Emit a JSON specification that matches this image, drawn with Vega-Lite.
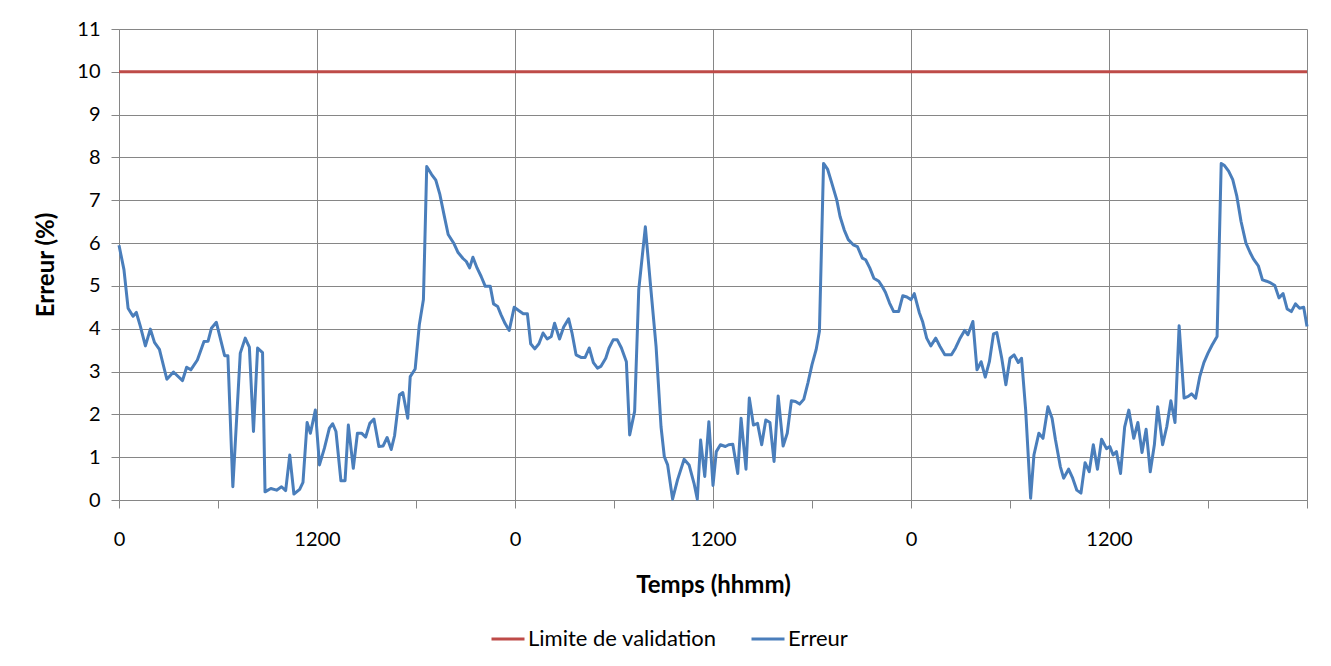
{
  "$schema": "https://vega.github.io/schema/vega-lite/v6.json",
  "width": 1188,
  "height": 471,
  "autosize": {"type": "none"},
  "padding": {"left": 119, "top": 29, "right": 24, "bottom": 166},
  "background": "white",
  "config": {
    "view": {"stroke": null},
    "font": "Lato",
    "axis": {"labelFont": "Lato", "titleFont": "Lato", "labelColor": "#000000", "titleColor": "#000000"}
  },
  "data": {"values": [
    {"h":0,"v":10,"s":"Limite de validation"},{"h":72,"v":10,"s":"Limite de validation"},
    {"h":0,"v":5.95,"s":"Erreur"},{"h":0.3,"v":5.38,"s":"Erreur"},{"h":0.55,"v":4.48,"s":"Erreur"},{"h":0.85,"v":4.29,"s":"Erreur"},{"h":1.05,"v":4.38,"s":"Erreur"},{"h":1.3,"v":4.05,"s":"Erreur"},{"h":1.6,"v":3.6,"s":"Erreur"},{"h":1.9,"v":3.99,"s":"Erreur"},{"h":2.15,"v":3.68,"s":"Erreur"},{"h":2.45,"v":3.52,"s":"Erreur"},{"h":2.9,"v":2.82,"s":"Erreur"},{"h":3.3,"v":2.99,"s":"Erreur"},{"h":3.85,"v":2.79,"s":"Erreur"},{"h":4.1,"v":3.1,"s":"Erreur"},{"h":4.35,"v":3.04,"s":"Erreur"},{"h":4.75,"v":3.27,"s":"Erreur"},{"h":5.15,"v":3.7,"s":"Erreur"},{"h":5.4,"v":3.71,"s":"Erreur"},{"h":5.6,"v":4.01,"s":"Erreur"},{"h":5.9,"v":4.15,"s":"Erreur"},{"h":6.4,"v":3.37,"s":"Erreur"},{"h":6.6,"v":3.37,"s":"Erreur"},{"h":6.9,"v":0.31,"s":"Erreur"},{"h":7.35,"v":3.43,"s":"Erreur"},{"h":7.65,"v":3.78,"s":"Erreur"},{"h":7.9,"v":3.57,"s":"Erreur"},{"h":8.15,"v":1.6,"s":"Erreur"},{"h":8.4,"v":3.55,"s":"Erreur"},{"h":8.7,"v":3.44,"s":"Erreur"},{"h":8.85,"v":0.19,"s":"Erreur"},{"h":9.2,"v":0.27,"s":"Erreur"},{"h":9.55,"v":0.23,"s":"Erreur"},{"h":9.85,"v":0.31,"s":"Erreur"},{"h":10.1,"v":0.22,"s":"Erreur"},{"h":10.35,"v":1.05,"s":"Erreur"},{"h":10.6,"v":0.14,"s":"Erreur"},{"h":10.95,"v":0.25,"s":"Erreur"},{"h":11.15,"v":0.41,"s":"Erreur"},{"h":11.4,"v":1.81,"s":"Erreur"},{"h":11.6,"v":1.56,"s":"Erreur"},{"h":11.9,"v":2.1,"s":"Erreur"},{"h":12.15,"v":0.82,"s":"Erreur"},{"h":12.45,"v":1.21,"s":"Erreur"},{"h":12.75,"v":1.68,"s":"Erreur"},{"h":12.95,"v":1.78,"s":"Erreur"},{"h":13.15,"v":1.6,"s":"Erreur"},{"h":13.45,"v":0.45,"s":"Erreur"},{"h":13.7,"v":0.45,"s":"Erreur"},{"h":13.9,"v":1.75,"s":"Erreur"},{"h":14.2,"v":0.74,"s":"Erreur"},{"h":14.45,"v":1.56,"s":"Erreur"},{"h":14.7,"v":1.56,"s":"Erreur"},{"h":14.95,"v":1.47,"s":"Erreur"},{"h":15.2,"v":1.79,"s":"Erreur"},{"h":15.45,"v":1.89,"s":"Erreur"},{"h":15.75,"v":1.25,"s":"Erreur"},{"h":16,"v":1.26,"s":"Erreur"},{"h":16.25,"v":1.46,"s":"Erreur"},{"h":16.5,"v":1.18,"s":"Erreur"},{"h":16.7,"v":1.5,"s":"Erreur"},{"h":17,"v":2.46,"s":"Erreur"},{"h":17.2,"v":2.51,"s":"Erreur"},{"h":17.5,"v":1.91,"s":"Erreur"},{"h":17.65,"v":2.88,"s":"Erreur"},{"h":17.95,"v":3.06,"s":"Erreur"},{"h":18.2,"v":4.09,"s":"Erreur"},{"h":18.45,"v":4.68,"s":"Erreur"},{"h":18.65,"v":7.79,"s":"Erreur"},{"h":18.95,"v":7.6,"s":"Erreur"},{"h":19.2,"v":7.47,"s":"Erreur"},{"h":19.45,"v":7.13,"s":"Erreur"},{"h":19.7,"v":6.66,"s":"Erreur"},{"h":19.95,"v":6.2,"s":"Erreur"},{"h":20.3,"v":5.99,"s":"Erreur"},{"h":20.55,"v":5.78,"s":"Erreur"},{"h":20.85,"v":5.64,"s":"Erreur"},{"h":21.05,"v":5.57,"s":"Erreur"},{"h":21.25,"v":5.42,"s":"Erreur"},{"h":21.45,"v":5.67,"s":"Erreur"},{"h":21.7,"v":5.42,"s":"Erreur"},{"h":21.95,"v":5.22,"s":"Erreur"},{"h":22.2,"v":4.99,"s":"Erreur"},{"h":22.5,"v":4.99,"s":"Erreur"},{"h":22.7,"v":4.58,"s":"Erreur"},{"h":22.95,"v":4.52,"s":"Erreur"},{"h":23.15,"v":4.33,"s":"Erreur"},{"h":23.4,"v":4.12,"s":"Erreur"},{"h":23.65,"v":3.96,"s":"Erreur"},{"h":23.95,"v":4.5,"s":"Erreur"},{"h":24.2,"v":4.43,"s":"Erreur"},{"h":24.5,"v":4.35,"s":"Erreur"},{"h":24.75,"v":4.35,"s":"Erreur"},{"h":24.95,"v":3.65,"s":"Erreur"},{"h":25.2,"v":3.53,"s":"Erreur"},{"h":25.45,"v":3.65,"s":"Erreur"},{"h":25.7,"v":3.9,"s":"Erreur"},{"h":25.95,"v":3.76,"s":"Erreur"},{"h":26.2,"v":3.82,"s":"Erreur"},{"h":26.4,"v":4.13,"s":"Erreur"},{"h":26.7,"v":3.76,"s":"Erreur"},{"h":26.95,"v":4.04,"s":"Erreur"},{"h":27.25,"v":4.23,"s":"Erreur"},{"h":27.45,"v":3.91,"s":"Erreur"},{"h":27.7,"v":3.39,"s":"Erreur"},{"h":28,"v":3.33,"s":"Erreur"},{"h":28.25,"v":3.33,"s":"Erreur"},{"h":28.5,"v":3.55,"s":"Erreur"},{"h":28.75,"v":3.21,"s":"Erreur"},{"h":29,"v":3.08,"s":"Erreur"},{"h":29.2,"v":3.12,"s":"Erreur"},{"h":29.5,"v":3.31,"s":"Erreur"},{"h":29.7,"v":3.55,"s":"Erreur"},{"h":29.95,"v":3.74,"s":"Erreur"},{"h":30.2,"v":3.74,"s":"Erreur"},{"h":30.45,"v":3.55,"s":"Erreur"},{"h":30.75,"v":3.23,"s":"Erreur"},{"h":30.95,"v":1.52,"s":"Erreur"},{"h":31.25,"v":2.07,"s":"Erreur"},{"h":31.5,"v":4.91,"s":"Erreur"},{"h":31.9,"v":6.38,"s":"Erreur"},{"h":32.2,"v":5.07,"s":"Erreur"},{"h":32.55,"v":3.59,"s":"Erreur"},{"h":32.85,"v":1.71,"s":"Erreur"},{"h":33.05,"v":1.01,"s":"Erreur"},{"h":33.25,"v":0.82,"s":"Erreur"},{"h":33.55,"v":0.02,"s":"Erreur"},{"h":33.85,"v":0.47,"s":"Erreur"},{"h":34.25,"v":0.95,"s":"Erreur"},{"h":34.55,"v":0.82,"s":"Erreur"},{"h":34.85,"v":0.39,"s":"Erreur"},{"h":35.05,"v":0.02,"s":"Erreur"},{"h":35.25,"v":1.4,"s":"Erreur"},{"h":35.5,"v":0.55,"s":"Erreur"},{"h":35.75,"v":1.83,"s":"Erreur"},{"h":36,"v":0.34,"s":"Erreur"},{"h":36.2,"v":1.13,"s":"Erreur"},{"h":36.45,"v":1.29,"s":"Erreur"},{"h":36.75,"v":1.25,"s":"Erreur"},{"h":36.95,"v":1.29,"s":"Erreur"},{"h":37.2,"v":1.3,"s":"Erreur"},{"h":37.5,"v":0.62,"s":"Erreur"},{"h":37.7,"v":1.91,"s":"Erreur"},{"h":38,"v":0.72,"s":"Erreur"},{"h":38.2,"v":2.38,"s":"Erreur"},{"h":38.45,"v":1.75,"s":"Erreur"},{"h":38.7,"v":1.79,"s":"Erreur"},{"h":38.95,"v":1.29,"s":"Erreur"},{"h":39.2,"v":1.87,"s":"Erreur"},{"h":39.45,"v":1.81,"s":"Erreur"},{"h":39.7,"v":0.9,"s":"Erreur"},{"h":39.95,"v":2.43,"s":"Erreur"},{"h":40.25,"v":1.26,"s":"Erreur"},{"h":40.5,"v":1.56,"s":"Erreur"},{"h":40.75,"v":2.32,"s":"Erreur"},{"h":41,"v":2.3,"s":"Erreur"},{"h":41.25,"v":2.24,"s":"Erreur"},{"h":41.5,"v":2.35,"s":"Erreur"},{"h":41.75,"v":2.73,"s":"Erreur"},{"h":42,"v":3.16,"s":"Erreur"},{"h":42.25,"v":3.51,"s":"Erreur"},{"h":42.45,"v":3.94,"s":"Erreur"},{"h":42.7,"v":7.86,"s":"Erreur"},{"h":42.95,"v":7.72,"s":"Erreur"},{"h":43.2,"v":7.4,"s":"Erreur"},{"h":43.5,"v":7.01,"s":"Erreur"},{"h":43.7,"v":6.62,"s":"Erreur"},{"h":43.95,"v":6.31,"s":"Erreur"},{"h":44.2,"v":6.08,"s":"Erreur"},{"h":44.5,"v":5.96,"s":"Erreur"},{"h":44.75,"v":5.92,"s":"Erreur"},{"h":45.05,"v":5.65,"s":"Erreur"},{"h":45.25,"v":5.61,"s":"Erreur"},{"h":45.5,"v":5.42,"s":"Erreur"},{"h":45.75,"v":5.18,"s":"Erreur"},{"h":46.05,"v":5.11,"s":"Erreur"},{"h":46.25,"v":4.99,"s":"Erreur"},{"h":46.45,"v":4.85,"s":"Erreur"},{"h":46.7,"v":4.6,"s":"Erreur"},{"h":46.95,"v":4.4,"s":"Erreur"},{"h":47.25,"v":4.4,"s":"Erreur"},{"h":47.5,"v":4.77,"s":"Erreur"},{"h":47.75,"v":4.74,"s":"Erreur"},{"h":48,"v":4.68,"s":"Erreur"},{"h":48.2,"v":4.82,"s":"Erreur"},{"h":48.5,"v":4.38,"s":"Erreur"},{"h":48.7,"v":4.17,"s":"Erreur"},{"h":48.95,"v":3.78,"s":"Erreur"},{"h":49.2,"v":3.6,"s":"Erreur"},{"h":49.5,"v":3.78,"s":"Erreur"},{"h":49.75,"v":3.59,"s":"Erreur"},{"h":50.05,"v":3.39,"s":"Erreur"},{"h":50.45,"v":3.39,"s":"Erreur"},{"h":50.7,"v":3.55,"s":"Erreur"},{"h":50.95,"v":3.76,"s":"Erreur"},{"h":51.25,"v":3.96,"s":"Erreur"},{"h":51.45,"v":3.86,"s":"Erreur"},{"h":51.75,"v":4.17,"s":"Erreur"},{"h":52,"v":3.04,"s":"Erreur"},{"h":52.25,"v":3.23,"s":"Erreur"},{"h":52.5,"v":2.87,"s":"Erreur"},{"h":52.75,"v":3.23,"s":"Erreur"},{"h":53,"v":3.88,"s":"Erreur"},{"h":53.2,"v":3.91,"s":"Erreur"},{"h":53.5,"v":3.31,"s":"Erreur"},{"h":53.75,"v":2.69,"s":"Erreur"},{"h":54,"v":3.31,"s":"Erreur"},{"h":54.25,"v":3.39,"s":"Erreur"},{"h":54.5,"v":3.21,"s":"Erreur"},{"h":54.7,"v":3.31,"s":"Erreur"},{"h":54.95,"v":2.1,"s":"Erreur"},{"h":55.25,"v":0.04,"s":"Erreur"},{"h":55.45,"v":1.05,"s":"Erreur"},{"h":55.75,"v":1.56,"s":"Erreur"},{"h":56,"v":1.44,"s":"Erreur"},{"h":56.3,"v":2.18,"s":"Erreur"},{"h":56.55,"v":1.91,"s":"Erreur"},{"h":56.75,"v":1.42,"s":"Erreur"},{"h":57.05,"v":0.78,"s":"Erreur"},{"h":57.25,"v":0.51,"s":"Erreur"},{"h":57.55,"v":0.72,"s":"Erreur"},{"h":57.8,"v":0.51,"s":"Erreur"},{"h":58.05,"v":0.23,"s":"Erreur"},{"h":58.3,"v":0.16,"s":"Erreur"},{"h":58.55,"v":0.87,"s":"Erreur"},{"h":58.8,"v":0.66,"s":"Erreur"},{"h":59.05,"v":1.29,"s":"Erreur"},{"h":59.3,"v":0.72,"s":"Erreur"},{"h":59.55,"v":1.42,"s":"Erreur"},{"h":59.85,"v":1.2,"s":"Erreur"},{"h":60.05,"v":1.25,"s":"Erreur"},{"h":60.25,"v":1.05,"s":"Erreur"},{"h":60.45,"v":1.13,"s":"Erreur"},{"h":60.7,"v":0.62,"s":"Erreur"},{"h":60.95,"v":1.71,"s":"Erreur"},{"h":61.2,"v":2.1,"s":"Erreur"},{"h":61.5,"v":1.44,"s":"Erreur"},{"h":61.75,"v":1.81,"s":"Erreur"},{"h":62,"v":1.11,"s":"Erreur"},{"h":62.25,"v":1.65,"s":"Erreur"},{"h":62.5,"v":0.66,"s":"Erreur"},{"h":62.75,"v":1.29,"s":"Erreur"},{"h":62.95,"v":2.18,"s":"Erreur"},{"h":63.25,"v":1.29,"s":"Erreur"},{"h":63.5,"v":1.71,"s":"Erreur"},{"h":63.75,"v":2.32,"s":"Erreur"},{"h":64,"v":1.81,"s":"Erreur"},{"h":64.25,"v":4.07,"s":"Erreur"},{"h":64.55,"v":2.38,"s":"Erreur"},{"h":64.8,"v":2.42,"s":"Erreur"},{"h":65,"v":2.48,"s":"Erreur"},{"h":65.25,"v":2.38,"s":"Erreur"},{"h":65.5,"v":2.88,"s":"Erreur"},{"h":65.75,"v":3.21,"s":"Erreur"},{"h":66,"v":3.43,"s":"Erreur"},{"h":66.25,"v":3.62,"s":"Erreur"},{"h":66.55,"v":3.82,"s":"Erreur"},{"h":66.8,"v":7.86,"s":"Erreur"},{"h":67,"v":7.81,"s":"Erreur"},{"h":67.25,"v":7.68,"s":"Erreur"},{"h":67.5,"v":7.48,"s":"Erreur"},{"h":67.75,"v":7.09,"s":"Erreur"},{"h":68,"v":6.51,"s":"Erreur"},{"h":68.3,"v":6,"s":"Erreur"},{"h":68.55,"v":5.78,"s":"Erreur"},{"h":68.75,"v":5.63,"s":"Erreur"},{"h":69.05,"v":5.47,"s":"Erreur"},{"h":69.3,"v":5.14,"s":"Erreur"},{"h":69.55,"v":5.11,"s":"Erreur"},{"h":69.8,"v":5.07,"s":"Erreur"},{"h":70.05,"v":5.01,"s":"Erreur"},{"h":70.3,"v":4.72,"s":"Erreur"},{"h":70.55,"v":4.82,"s":"Erreur"},{"h":70.8,"v":4.46,"s":"Erreur"},{"h":71.05,"v":4.4,"s":"Erreur"},{"h":71.3,"v":4.58,"s":"Erreur"},{"h":71.55,"v":4.48,"s":"Erreur"},{"h":71.8,"v":4.5,"s":"Erreur"},{"h":72,"v":4.05,"s":"Erreur"}
  ]},
  "mark": {"type": "line", "strokeWidth": 3, "interpolate": "linear", "strokeJoin": "round"},
  "encoding": {
    "x": {
      "field": "h", "type": "quantitative",
      "scale": {"domain": [0, 72], "nice": false, "zero": false},
      "axis": {
        "title": "Temps (hhmm)",
        "titleFontSize": 24, "titleFontWeight": "bold", "titlePadding": 24,
        "values": [0, 6, 12, 18, 24, 30, 36, 42, 48, 54, 60, 66, 72],
        "labelExpr": "datum.value % 24 == 0 && datum.value < 72 ? '0' : (datum.value % 24 == 12 ? '1200' : '')",
        "labelFontSize": 20, "labelPadding": 21, "labelOverlap": false, "labelFlush": false,
        "tickSize": 8, "tickColor": "#868686", "domainColor": "#868686",
        "grid": true, "gridColor": "#868686", "gridWidth": 1,
        "gridOpacity": {"condition": {"test": "datum.value % 12 == 0", "value": 1}, "value": 0}
      }
    },
    "y": {
      "field": "v", "type": "quantitative",
      "scale": {"domain": [0, 11], "nice": false},
      "axis": {
        "title": "Erreur (%)",
        "titleFontSize": 24, "titleFontWeight": "bold", "titlePadding": 18,
        "values": [0, 1, 2, 3, 4, 5, 6, 7, 8, 9, 10, 11],
        "labelFontSize": 20, "labelPadding": 11,
        "tickSize": 8, "tickColor": "#868686", "domainColor": "#868686",
        "grid": true, "gridColor": "#868686", "gridWidth": 1
      }
    },
    "color": {
      "field": "s", "type": "nominal",
      "scale": {"domain": ["Limite de validation", "Erreur"], "range": ["#BE4B48", "#4A7EBB"]},
      "legend": {
        "title": null, "orient": "none", "direction": "horizontal",
        "legendX": 371, "legendY": 592, "padding": 0,
        "symbolType": "stroke", "symbolSize": 1089, "symbolStrokeWidth": 3,
        "labelFont": "Lato", "labelFontSize": 22, "labelColor": "#000000", "labelOffset": 2,
        "labelLimit": 0, "columnPadding": 28
      }
    }
  }
}
